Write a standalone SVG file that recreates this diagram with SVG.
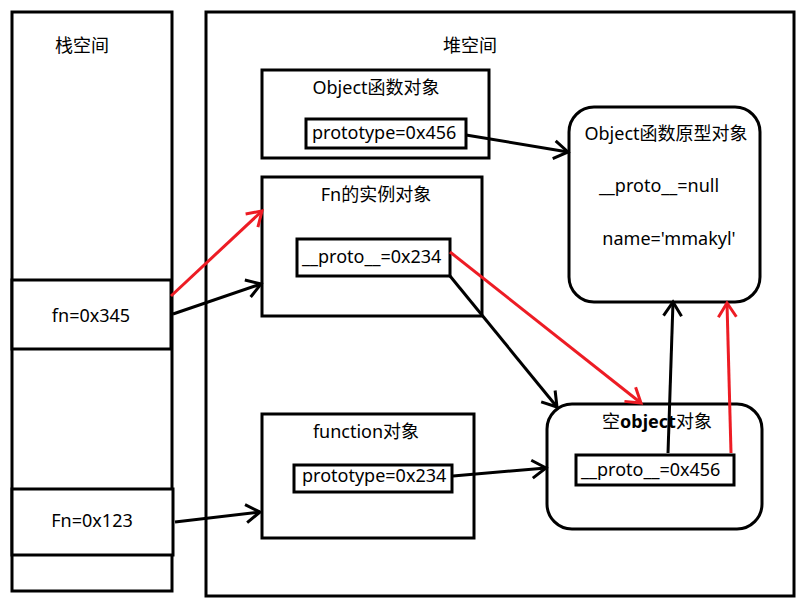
<svg xmlns="http://www.w3.org/2000/svg" width="800" height="604" viewBox="0 0 800 604">
<style>
.box{fill:#fff;stroke:#000;stroke-width:3}
.t{font-family:"Noto Sans","Noto Sans CJK SC",sans-serif;font-size:18px;fill:#000}
.m{text-anchor:middle}
.k{fill:none;stroke:#000;stroke-width:3}
.r{fill:none;stroke:#ed1c24;stroke-width:3}
</style>
<defs>
<marker id="ak" markerUnits="userSpaceOnUse" markerWidth="30" markerHeight="30" viewBox="-20 -15 30 30" refX="0" refY="0" orient="auto" overflow="visible">
<path d="M-14,-9 L0,0 L-14,9" fill="none" stroke="#000" stroke-width="3"/>
</marker>
<marker id="ar" markerUnits="userSpaceOnUse" markerWidth="30" markerHeight="30" viewBox="-20 -15 30 30" refX="0" refY="0" orient="auto" overflow="visible">
<path d="M-14,-9 L0,0 L-14,9" fill="none" stroke="#ed1c24" stroke-width="3"/>
</marker>
</defs>
<rect width="800" height="604" fill="#fff"/>
<g id="stack">
<rect class="box" x="12" y="12" width="160" height="579"/>
<text class="t m" x="82" y="52">栈空间</text>
</g>
<g id="heap">
<rect class="box" x="206" y="12" width="588" height="584"/>
<text class="t m" x="470" y="52">堆空间</text>
</g>
<g id="fn">
<rect class="box" x="12" y="280" width="159" height="69"/>
<text class="t m" x="91" y="322">fn=0x345</text>
</g>
<g id="Fn">
<rect class="box" x="12" y="489" width="161" height="66"/>
<text class="t m" x="92" y="527">Fn=0x123</text>
</g>
<g id="objectFunc">
<rect class="box" x="262" y="70" width="227" height="88"/>
<text class="t m" x="376" y="94">Object函数对象</text>
<rect class="box" x="306" y="119" width="160" height="29"/>
<text class="t" x="312" y="139">prototype=0x456</text>
</g>
<g id="fnInstance">
<rect class="box" x="262" y="177" width="220" height="139"/>
<text class="t m" x="376" y="201">Fn的实例对象</text>
<rect class="box" x="297" y="239" width="153" height="37"/>
<text class="t" x="302" y="263">__proto__=0x234</text>
</g>
<g id="objectProto">
<rect class="box" x="569" y="107" width="191" height="195" rx="25" ry="25"/>
<text class="t m" x="666" y="140">Object函数原型对象</text>
<text class="t m" x="659" y="192">__proto__=null</text>
<text class="t m" x="669" y="245">name='mmakyl'</text>
</g>
<g id="functionObj">
<rect class="box" x="262" y="414" width="212" height="124"/>
<text class="t m" x="366" y="438">function对象</text>
<rect class="box" x="294" y="465" width="158" height="27"/>
<text class="t" x="302" y="482">prototype=0x234</text>
</g>
<g id="emptyObj">
<rect class="box" x="547" y="404" width="215" height="125" rx="25" ry="25"/>
<text class="t m" x="657" y="428">空<tspan font-weight="bold">object</tspan>对象</text>
<rect class="box" x="576" y="455" width="158" height="30"/>
<text class="t" x="581" y="476">__proto__=0x456</text>
</g>
<g id="connectors">
<line class="k" x1="466" y1="135" x2="568" y2="152" marker-end="url(#ak)"/>
<line class="r" x1="171" y1="296" x2="262" y2="211" marker-end="url(#ar)"/>
<line class="k" x1="173" y1="314" x2="261" y2="284" marker-end="url(#ak)"/>
<line class="k" x1="175" y1="522" x2="260" y2="512" marker-end="url(#ak)"/>
<line class="k" x1="450" y1="276" x2="557" y2="407" marker-end="url(#ak)"/>
<line class="r" x1="450" y1="252" x2="641" y2="403" marker-end="url(#ar)"/>
<line class="k" x1="453" y1="476" x2="546" y2="468" marker-end="url(#ak)"/>
<line class="k" x1="668" y1="453" x2="673" y2="302" marker-end="url(#ak)"/>
<line class="r" x1="731" y1="453" x2="727" y2="303" marker-end="url(#ar)"/>
</g>
</svg>
